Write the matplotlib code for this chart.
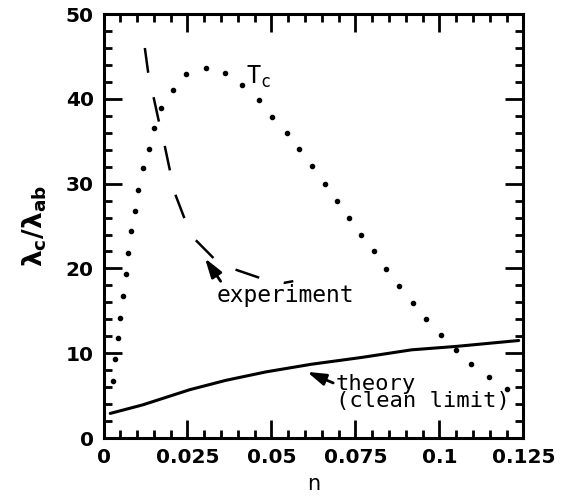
import matplotlib
matplotlib.use("Agg")
import matplotlib.pyplot as plt
from matplotlib.ticker import MultipleLocator

plt.rcParams.update({
    "font.family": "DejaVu Sans",
    "font.weight": "bold",
    "mathtext.default": "bf",
})

# T_c dotted curve (dots)
tc_n = [0.0028, 0.0035, 0.0043, 0.0050, 0.0058, 0.0068, 0.0073, 0.0083, 0.0093,
        0.0104, 0.0117, 0.0134, 0.0150, 0.0172, 0.0206, 0.0246, 0.0306, 0.0362,
        0.0412, 0.0462, 0.0502, 0.0546, 0.0583, 0.0621, 0.0658, 0.0696, 0.0730,
        0.0768, 0.0805, 0.0840, 0.0880, 0.0921, 0.0961, 0.1005, 0.1049, 0.1095,
        0.1148, 0.1201]
tc_y = [6.7, 9.3, 11.8, 14.2, 16.8, 19.3, 21.8, 24.4, 26.8, 29.3, 31.8, 34.1,
        36.6, 38.9, 41.1, 42.9, 43.6, 43.0, 41.6, 39.9, 37.9, 36.0, 34.1, 32.1,
        30.0, 28.0, 26.0, 23.9, 22.1, 19.9, 17.9, 15.9, 14.0, 12.2, 10.4, 8.7,
        7.2, 5.8]

# experiment (dashed)
exp_n = [0.0123, 0.0133, 0.0149, 0.0165, 0.0182, 0.0198, 0.0214, 0.0242, 0.0273,
         0.0328, 0.0390, 0.0464, 0.0538, 0.0565]
exp_y = [46.0, 43.1, 40.2, 37.3, 34.5, 31.5, 28.7, 25.8, 23.4, 21.2, 19.9, 18.9,
         18.3, 18.5]

# theory, clean limit (solid)
th_n = [0.0020, 0.0116, 0.0257, 0.0364, 0.0484, 0.0619, 0.0768, 0.0917, 0.1049, 0.1236]
th_y = [2.9, 3.9, 5.7, 6.8, 7.8, 8.7, 9.5, 10.4, 10.8, 11.5]

fig = plt.figure(figsize=(5.76, 4.97), dpi=100)
ax = fig.add_axes([0.1797, 0.1187, 0.729, 0.853])

ax.plot(tc_n, tc_y, ls="none", marker="o", ms=3.0, color="black")
ax.plot(exp_n, exp_y, color="black", lw=1.8, dashes=(10, 10))
ax.plot(th_n, th_y, color="black", lw=2.2, solid_capstyle="round")

ax.text(0.0425, 42.6, r"T$_\mathregular{c}$", fontsize=17, va="center", ha="left",
        family="DejaVu Sans Mono", weight="normal")

arrow = dict(arrowstyle="-|>,head_length=0.7,head_width=0.22",
             color="black", lw=2, shrinkA=0, shrinkB=0)
ax.annotate("experiment", xy=(0.0302, 21.2), xytext=(0.0338, 16.8),
            fontsize=16.5, family="DejaVu Sans Mono", weight="normal",
            ha="left", va="center",
            arrowprops=dict(arrow, relpos=(0.04, 1.0)))
ax.annotate("theory\n(clean limit)", xy=(0.0606, 7.8), xytext=(0.0692, 5.4),
            fontsize=16, family="DejaVu Sans Mono", weight="normal",
            ha="left", va="center", linespacing=0.8,
            arrowprops=dict(arrow, relpos=(0.0, 0.72)))

ax.set_xlim(0, 0.125)
ax.set_ylim(0, 50)
ax.set_xticks([0, 0.025, 0.05, 0.075, 0.1, 0.125])
ax.set_xticklabels(["0", "0.025", "0.05", "0.075", "0.1", "0.125"])
ax.set_yticks([0, 10, 20, 30, 40, 50])
ax.xaxis.set_minor_locator(MultipleLocator(0.005))
ax.yaxis.set_minor_locator(MultipleLocator(2))
ax.tick_params(which="both", direction="in", top=True, right=True,
               labelsize=14.5, width=2)
ax.tick_params(which="major", length=13, pad=7)
ax.tick_params(which="minor", length=6)
for s in ax.spines.values():
    s.set_linewidth(2.2)

ax.set_xlabel("n", fontsize=15, labelpad=5)
ax.set_ylabel(r"$\lambda_c/\lambda_{ab}$", fontsize=19, labelpad=12)

fig.savefig("out.png", dpi=100, facecolor="white")
